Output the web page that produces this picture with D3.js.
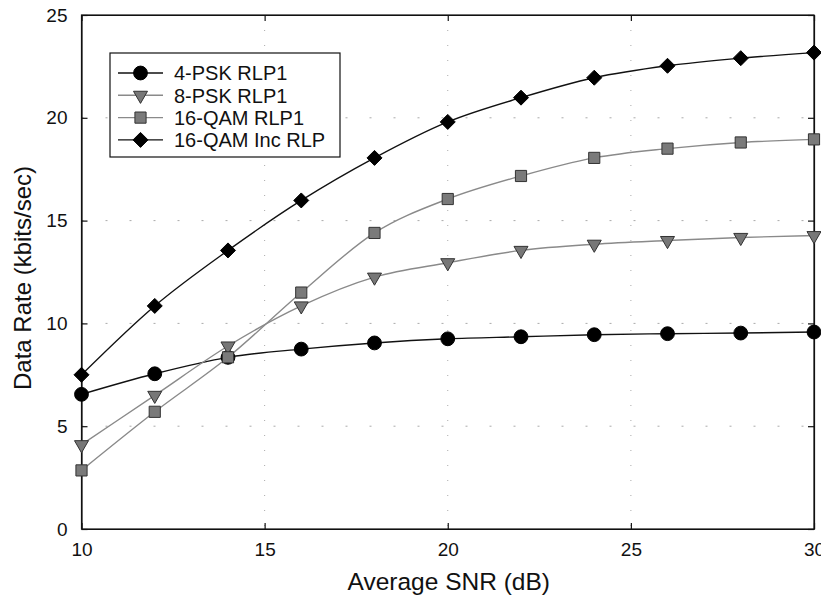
<!DOCTYPE html>
<html>
<head>
<meta charset="utf-8">
<script src="https://cdn.jsdelivr.net/npm/d3@7"></script>
<style>
  body { margin: 0; background: #fff; }
  svg { display: block; font-family: "Liberation Sans", Arial, sans-serif; }
</style>
</head>
<body>
<script>
// SNR values (dB) on the x axis
const snr = [10, 12, 14, 16, 18, 20, 22, 24, 26, 28, 30];

// Data rate values (kbits/sec)
const psk4 = [6.55, 7.55, 8.35, 8.75, 9.05, 9.25, 9.35, 9.45, 9.5, 9.53, 9.58];
const psk8 = [4.1, 6.5, 8.9, 10.85, 12.25, 12.95, 13.55, 13.85, 14.03, 14.18, 14.27];
const qam16 = [2.85, 5.7, 8.35, 11.5, 14.4, 16.05, 17.17, 18.05, 18.5, 18.8, 18.95];
const qam16Inc = [7.5, 10.85, 13.55, 15.98, 18.05, 19.8, 20.98, 21.95, 22.53, 22.9, 23.17];

const seriesNames = ["4-PSK RLP1", "8-PSK RLP1", "16-QAM RLP1", "16-QAM Inc RLP"];
const xTicks = [10, 15, 20, 25, 30];
const yTicks = [0, 5, 10, 15, 20, 25];

const series = [
  { name: seriesNames[0], values: psk4, line: "#111", fill: "#000", stroke: "#000", shape: "circle" },
  { name: seriesNames[1], values: psk8, line: "#8a8a8a", fill: "#777", stroke: "#333", shape: "triangle" },
  { name: seriesNames[2], values: qam16, line: "#8a8a8a", fill: "#7a7a7a", stroke: "#333", shape: "square" },
  { name: seriesNames[3], values: qam16Inc, line: "#111", fill: "#000", stroke: "#000", shape: "diamond" }
];

const W = 821, H = 599;
const margin = { top: 15, right: 7, bottom: 70, left: 81.5 };
const width = W - margin.left - margin.right;
const height = H - margin.top - margin.bottom;

const svg = d3.select("body").append("svg")
  .attr("width", W)
  .attr("height", H);

const g = svg.append("g")
  .attr("transform", `translate(${margin.left},${margin.top})`);

const x = d3.scaleLinear().domain([10, 30]).range([0, width]);
const y = d3.scaleLinear().domain([0, 25]).range([height, 0]);

// faint dotted grid
g.append("g").selectAll("line")
  .data(xTicks.slice(1, -1))
  .join("line")
  .attr("x1", d => x(d)).attr("x2", d => x(d))
  .attr("y1", 0).attr("y2", height)
  .attr("stroke", "#aaa")
  .attr("stroke-width", 1)
  .attr("stroke-dasharray", "1,14");

g.append("g").selectAll("line")
  .data(yTicks.slice(1, -1))
  .join("line")
  .attr("x1", 0).attr("x2", width)
  .attr("y1", d => y(d)).attr("y2", d => y(d))
  .attr("stroke", "#aaa")
  .attr("stroke-width", 1)
  .attr("stroke-dasharray", "2,22");

// axes with inward ticks
const xAxis = d3.axisBottom(x).tickValues(xTicks).tickSize(-6).tickPadding(14).tickSizeOuter(0);
const yAxis = d3.axisLeft(y).tickValues(yTicks).tickSize(-6).tickPadding(14).tickSizeOuter(0);

g.append("g")
  .attr("transform", `translate(0,${height})`)
  .call(xAxis)
  .call(a => a.selectAll("text").style("font-size", "19px").attr("fill", "#111"));

g.append("g")
  .call(yAxis)
  .call(a => a.selectAll("text").style("font-size", "19px").attr("fill", "#111"));

g.append("g")
  .call(d3.axisTop(x).tickValues(xTicks).tickSize(-6).tickSizeOuter(0).tickFormat(""));

g.append("g")
  .attr("transform", `translate(${width},0)`)
  .call(d3.axisRight(y).tickValues(yTicks).tickSize(-6).tickSizeOuter(0).tickFormat(""));

g.selectAll(".domain").attr("stroke", "#111").attr("stroke-width", 1.2);
g.selectAll(".tick line").attr("stroke", "#111").attr("stroke-width", 1.2);

// frame
g.append("rect")
  .attr("width", width).attr("height", height)
  .attr("fill", "none")
  .attr("stroke", "#111")
  .attr("stroke-width", 1.2);

// axis titles
svg.append("text")
  .attr("x", margin.left + width / 2 + 1)
  .attr("y", 590)
  .attr("text-anchor", "middle")
  .style("font-size", "24.5px")
  .attr("fill", "#111")
  .text("Average SNR (dB)");

svg.append("text")
  .attr("transform", `translate(31,${margin.top + height / 2 + 6}) rotate(-90)`)
  .attr("text-anchor", "middle")
  .style("font-size", "24px")
  .attr("fill", "#111")
  .text("Data Rate (kbits/sec)");

// marker drawing
const diamondPath = "M0,-7.5L7.5,0L0,7.5L-7.5,0Z";
const symbolFor = {
  circle: () => d3.symbol(d3.symbolCircle, 150)(),
  triangle: () => d3.symbol(d3.symbolTriangle, 85)(),
  square: () => d3.symbol(d3.symbolSquare, 125)(),
  diamond: () => diamondPath
};

function marker(sel, s) {
  sel.attr("d", symbolFor[s.shape]())
    .attr("fill", s.fill)
    .attr("stroke", s.stroke)
    .attr("stroke-width", 1)
    .attr("transform", function () {
      const base = d3.select(this).attr("data-t");
      return s.shape === "triangle" ? base + " rotate(180)" : base;
    });
}

const line = d3.line()
  .x((d, i) => x(snr[i]))
  .y(d => y(d))
  .curve(d3.curveMonotoneX);

series.forEach(s => {
  g.append("path")
    .datum(s.values)
    .attr("fill", "none")
    .attr("stroke", s.line)
    .attr("stroke-width", 1.4)
    .attr("d", line);
});

series.forEach(s => {
  g.append("g").selectAll("path")
    .data(s.values)
    .join("path")
    .attr("data-t", (d, i) => `translate(${x(snr[i])},${y(d)})`)
    .each(function () { marker(d3.select(this), s); });
});

// legend
const legend = svg.append("g").attr("transform", "translate(110,53)");
legend.append("rect")
  .attr("width", 230).attr("height", 104)
  .attr("fill", "#fff")
  .attr("stroke", "#111")
  .attr("stroke-width", 1.2);

series.forEach((s, i) => {
  const row = legend.append("g").attr("transform", `translate(0,${20 + i * 22.3})`);
  row.append("line")
    .attr("x1", 8).attr("x2", 53)
    .attr("stroke", s.line)
    .attr("stroke-width", 1.4);
  row.append("path")
    .attr("data-t", "translate(30.5,0)")
    .each(function () { marker(d3.select(this), s); });
  row.append("text")
    .attr("x", 64)
    .attr("dy", "0.36em")
    .style("font-size", "20px")
    .attr("fill", "#111")
    .text(s.name);
});
</script>
</body>
</html>
